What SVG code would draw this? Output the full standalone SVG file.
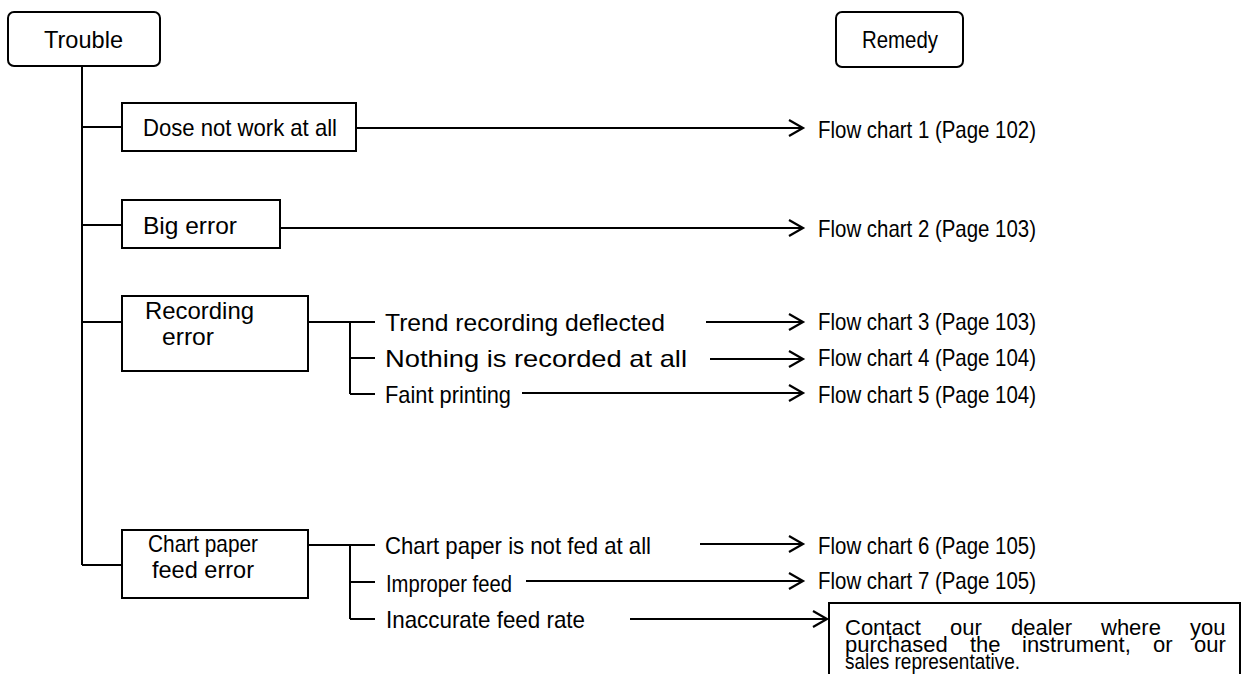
<svg xmlns="http://www.w3.org/2000/svg" width="1241" height="674" viewBox="0 0 1241 674">
<style>
  .box { fill: #fff; stroke: #000; stroke-width: 2; }
  .ln { fill: none; stroke: #000; stroke-width: 2; }
  .ar { fill: none; stroke: #000; stroke-width: 2; marker-end: url(#chev); }
  text { font-family: "Liberation Sans", Arial, sans-serif; font-size: 24px; fill: #000; }
  .ct { font-size: 22px; }
</style>
<defs>
  <marker id="chev" markerUnits="userSpaceOnUse" markerWidth="20" markerHeight="20" viewBox="-16 -10 18 20" refX="0" refY="0" orient="auto" overflow="visible">
    <path d="M-14,-8 L0,0 L-14,8" fill="none" stroke="#000" stroke-width="2.2"/>
  </marker>
</defs>
<rect width="1241" height="674" fill="#fff"/>

<g id="connectors">
  <path class="ln" d="M82,66 V565"/>
  <path class="ln" d="M82,127 H122"/>
  <path class="ln" d="M82,225 H122"/>
  <path class="ln" d="M82,322 H122"/>
  <path class="ln" d="M82,565 H122"/>
  <path class="ln" d="M308,322 H350 M350,322 V394 M350,322 H375 M350,358 H375 M350,394 H375"/>
  <path class="ln" d="M308,545 H350 M350,545 V619 M350,545 H375 M350,582 H375 M350,619 H375"/>
  <path class="ar" d="M356,128 H803"/>
  <path class="ar" d="M280,228 H803"/>
  <path class="ar" d="M706,322 H803"/>
  <path class="ar" d="M710,359 H803"/>
  <path class="ar" d="M522,393 H803"/>
  <path class="ar" d="M700,544 H803"/>
  <path class="ar" d="M526,581 H803"/>
  <path class="ar" d="M630,619 H827"/>
</g>

<g id="trouble">
  <rect class="box" x="8" y="12" width="152" height="54" rx="6"/>
  <text x="44" y="48" textLength="79" lengthAdjust="spacingAndGlyphs">Trouble</text>
</g>
<g id="remedy">
  <rect class="box" x="836" y="12" width="127" height="55" rx="6"/>
  <text x="862" y="48" textLength="76" lengthAdjust="spacingAndGlyphs">Remedy</text>
</g>
<g id="dose">
  <rect class="box" x="122" y="103" width="234" height="48"/>
  <text x="143" y="136" textLength="194" lengthAdjust="spacingAndGlyphs">Dose not work at all</text>
</g>
<g id="big-error">
  <rect class="box" x="122" y="200" width="158" height="48"/>
  <text x="143" y="234" textLength="94" lengthAdjust="spacingAndGlyphs">Big error</text>
</g>
<g id="recording-error">
  <rect class="box" x="122" y="296" width="186" height="75"/>
  <text x="145" y="319" textLength="109" lengthAdjust="spacingAndGlyphs">Recording</text>
  <text x="162" y="345" textLength="52" lengthAdjust="spacingAndGlyphs">error</text>
</g>
<g id="chart-paper-feed-error">
  <rect class="box" x="122" y="530" width="186" height="68"/>
  <text x="148" y="552" textLength="110" lengthAdjust="spacingAndGlyphs">Chart paper</text>
  <text x="152" y="578" textLength="102" lengthAdjust="spacingAndGlyphs">feed error</text>
</g>

<g id="trend"><text x="385" y="331" textLength="280" lengthAdjust="spacingAndGlyphs">Trend recording deflected</text></g>
<g id="nothing"><text x="385" y="367" textLength="302" lengthAdjust="spacingAndGlyphs">Nothing is recorded at all</text></g>
<g id="faint"><text x="385" y="403" textLength="126" lengthAdjust="spacingAndGlyphs">Faint printing</text></g>
<g id="not-fed"><text x="385" y="554" textLength="266" lengthAdjust="spacingAndGlyphs">Chart paper is not fed at all</text></g>
<g id="improper"><text x="386" y="592" textLength="126" lengthAdjust="spacingAndGlyphs">Improper feed</text></g>
<g id="inaccurate"><text x="386" y="628" textLength="199" lengthAdjust="spacingAndGlyphs">Inaccurate feed rate</text></g>

<g id="fc1"><text x="818" y="138" textLength="218" lengthAdjust="spacingAndGlyphs">Flow chart 1 (Page 102)</text></g>
<g id="fc2"><text x="818" y="237" textLength="218" lengthAdjust="spacingAndGlyphs">Flow chart 2 (Page 103)</text></g>
<g id="fc3"><text x="818" y="330" textLength="218" lengthAdjust="spacingAndGlyphs">Flow chart 3 (Page 103)</text></g>
<g id="fc4"><text x="818" y="366" textLength="218" lengthAdjust="spacingAndGlyphs">Flow chart 4 (Page 104)</text></g>
<g id="fc5"><text x="818" y="403" textLength="218" lengthAdjust="spacingAndGlyphs">Flow chart 5 (Page 104)</text></g>
<g id="fc6"><text x="818" y="554" textLength="218" lengthAdjust="spacingAndGlyphs">Flow chart 6 (Page 105)</text></g>
<g id="fc7"><text x="818" y="589" textLength="218" lengthAdjust="spacingAndGlyphs">Flow chart 7 (Page 105)</text></g>

<g id="contact">
  <rect class="box" x="829" y="603" width="411" height="90"/>
  <text class="ct" y="635"><tspan x="845">Contact</tspan><tspan x="950">our</tspan><tspan x="1011">dealer</tspan><tspan x="1101">where</tspan><tspan x="1190">you</tspan></text>
  <text class="ct" y="652"><tspan x="845">purchased</tspan><tspan x="970">the</tspan><tspan x="1022">instrument,</tspan><tspan x="1153">or</tspan><tspan x="1194">our</tspan></text>
  <text class="ct" x="845" y="669" textLength="175" lengthAdjust="spacingAndGlyphs">sales representative.</text>
</g>
</svg>
